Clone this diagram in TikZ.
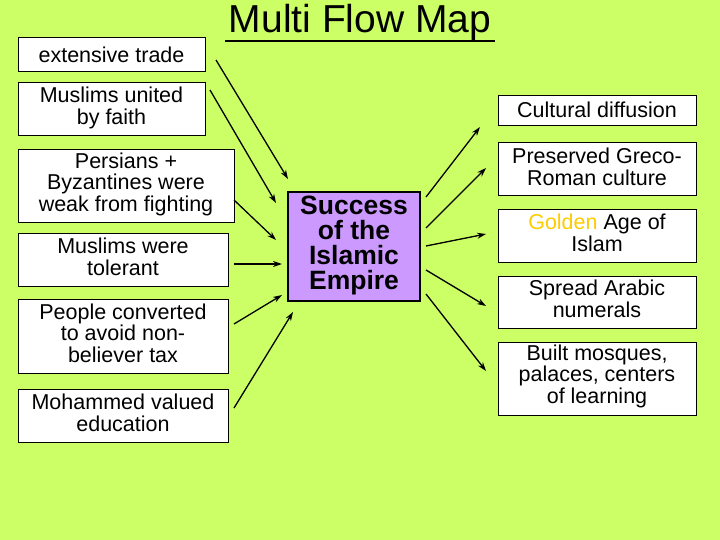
\documentclass[tikz,border=0pt]{standalone}
\usepackage{fontspec}
\setmainfont{Liberation Sans}
\usetikzlibrary{arrows.meta}
\begin{document}
\begin{tikzpicture}[x=1pt,y=-1pt,
  box/.style={draw=black,fill=white,line width=1pt},
  txt/.style={font=\fontsize{21.5}{21.5}\selectfont,align=center},
  arr/.style={-{Stealth[length=9pt,width=6pt]},line width=1.3pt}]
\fill[fill={rgb,255:red,204;green,255;blue,102}] (0,0) rectangle (720,540);
\useasboundingbox (0,0) rectangle (720,540);
\node[font=\fontsize{39}{40}\selectfont] (title) at (360,22) {Multi Flow Map};
\draw[line width=2pt] (225,41) -- (495,41);
% left boxes
\draw[box] (18,38) rectangle (205,72); \node[txt] (l1) at (111.5,55) {extensive trade};
\draw[box] (18,83) rectangle (205,136); \node[txt] (l2) at (111.5,108) {Muslims united\\by faith};
\draw[box] (18,150) rectangle (234,223); \node[txt] (l3) at (126,184) {Persians +\\Byzantines were\\weak from fighting};
\draw[box] (18,233) rectangle (228,286); \node[txt] (l4) at (123,257) {Muslims were\\tolerant};
\draw[box] (18,299) rectangle (228,373); \node[txt] (l5) at (123,333) {People converted\\to avoid non-\\believer tax};
\draw[box] (18,389) rectangle (228,442); \node[txt] (l6) at (123,413) {Mohammed valued\\education};
% center
\draw[line width=1.3pt,fill={rgb,255:red,204;green,153;blue,255}] (288,192) rectangle (420,301);
\node[font=\bfseries\fontsize{26.5}{25}\selectfont,align=center] (c) at (354,245) {Success\\of the\\Islamic\\Empire};
% right boxes
\draw[box] (498,96) rectangle (696,126); \node[txt] (r1) at (597,110) {Cultural diffusion};
\draw[box] (498,143) rectangle (696,196); \node[txt] (r2) at (597,167) {Preserved Greco-\\Roman culture};
\draw[box] (498,210) rectangle (696,262); \node[txt] (r3) at (597,233) {\textcolor[rgb]{1,0.8,0}{Golden} Age of\\Islam};
\draw[box] (498,276) rectangle (696,328); \node[txt] (r4) at (597,299) {Spread Arabic\\numerals};
\draw[box] (498,342) rectangle (696,415); \node[txt] (r5) at (597,376) {Built mosques,\\palaces, centers\\of learning};
% arrow coordinates
\coordinate (a1s) at (216,60); \coordinate (a1e) at (288,179);
\coordinate (a2s) at (210,90); \coordinate (a2e) at (276,203);
\coordinate (a3s) at (234,200); \coordinate (a3e) at (276,240);
\coordinate (a4s) at (234,264); \coordinate (a4e) at (282,264);
\coordinate (a5s) at (234,324); \coordinate (a5e) at (282,295);
\coordinate (a6s) at (234,408); \coordinate (a6e) at (293,312);
\coordinate (b1s) at (426,197); \coordinate (b1e) at (480,127);
\coordinate (b2s) at (426,228); \coordinate (b2e) at (486,168);
\coordinate (b3s) at (426,246); \coordinate (b3e) at (486,234);
\coordinate (b4s) at (426,270); \coordinate (b4e) at (486,306);
\coordinate (b5s) at (426,294); \coordinate (b5e) at (486,371);
\foreach \p in {a1,a2,a3,a4,a5,a6,b1,b2,b3,b4,b5} \draw[arr] (\p s) -- (\p e);
\end{tikzpicture}
\end{document}
